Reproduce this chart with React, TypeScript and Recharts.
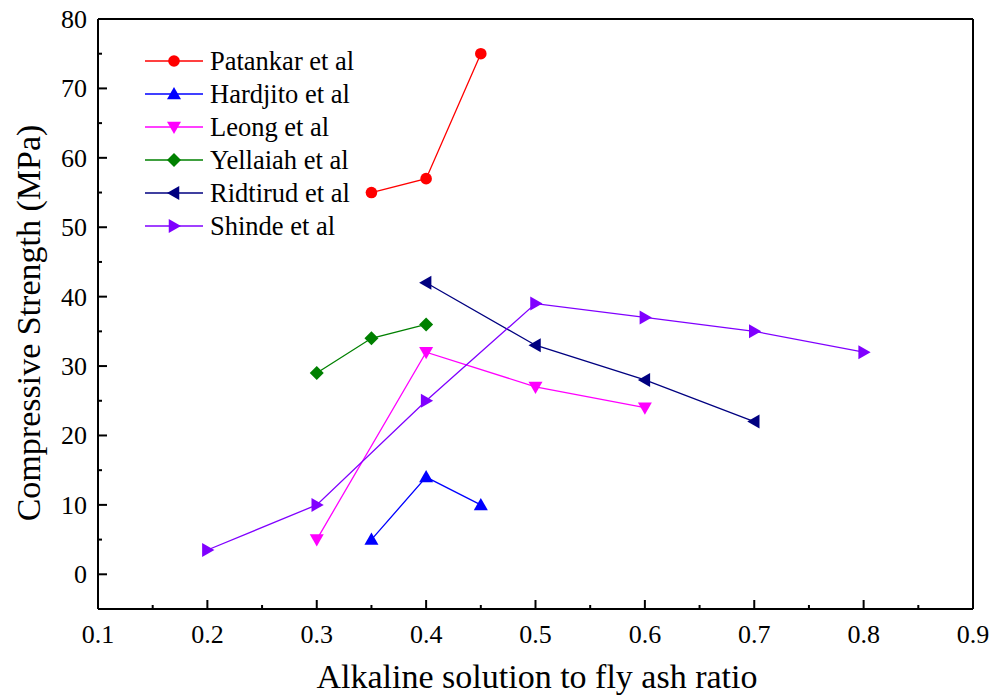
import React from "react";
import { Line, LineChart, XAxis, YAxis, Label } from "recharts";

const patankar = [
  { x: 0.35, y: 55 },
  { x: 0.4, y: 57 },
  { x: 0.45, y: 75 },
];
const hardjito = [
  { x: 0.35, y: 5 },
  { x: 0.4, y: 14 },
  { x: 0.45, y: 10 },
];
const leong = [
  { x: 0.3, y: 5 },
  { x: 0.4, y: 32 },
  { x: 0.5, y: 27 },
  { x: 0.6, y: 24 },
];
const yellaiah = [
  { x: 0.3, y: 29 },
  { x: 0.35, y: 34 },
  { x: 0.4, y: 36 },
];
const ridtirud = [
  { x: 0.4, y: 42 },
  { x: 0.5, y: 33 },
  { x: 0.6, y: 28 },
  { x: 0.7, y: 22 },
];
const shinde = [
  { x: 0.2, y: 3.5 },
  { x: 0.3, y: 10 },
  { x: 0.4, y: 25 },
  { x: 0.5, y: 39 },
  { x: 0.6, y: 37 },
  { x: 0.7, y: 35 },
  { x: 0.8, y: 32 },
];

const xTicks = [0.1, 0.15, 0.2, 0.25, 0.3, 0.35, 0.4, 0.45, 0.5, 0.55, 0.6, 0.65, 0.7, 0.75, 0.8, 0.85, 0.9];
const yTicks = [0, 5, 10, 15, 20, 25, 30, 35, 40, 45, 50, 55, 60, 65, 70, 75, 80];

type Shape = "circle" | "up" | "down" | "diamond" | "left" | "right";

const series: { name: string; data: { x: number; y: number }[]; color: string; shape: Shape }[] = [
  { name: "Patankar et al", data: patankar, color: "#ff0000", shape: "circle" },
  { name: "Hardjito et al", data: hardjito, color: "#0000ff", shape: "up" },
  { name: "Leong et al", data: leong, color: "#ff00ff", shape: "down" },
  { name: "Yellaiah et al", data: yellaiah, color: "#008000", shape: "diamond" },
  { name: "Ridtirud et al", data: ridtirud, color: "#000080", shape: "left" },
  { name: "Shinde et al", data: shinde, color: "#8000ff", shape: "right" },
];

const FONT = "'Liberation Serif', 'Times New Roman', serif";

function Marker({ cx, cy, shape, color }: { cx: number; cy: number; shape: Shape; color: string }) {
  const s = 7;
  switch (shape) {
    case "circle":
      return <circle cx={cx} cy={cy} r={5.8} fill={color} />;
    case "up":
      return <polygon points={`${cx},${cy - s} ${cx - s},${cy + s * 0.75} ${cx + s},${cy + s * 0.75}`} fill={color} />;
    case "down":
      return <polygon points={`${cx},${cy + s} ${cx - s},${cy - s * 0.75} ${cx + s},${cy - s * 0.75}`} fill={color} />;
    case "diamond":
      return <polygon points={`${cx},${cy - s} ${cx + s},${cy} ${cx},${cy + s} ${cx - s},${cy}`} fill={color} />;
    case "left":
      return <polygon points={`${cx - s},${cy} ${cx + s * 0.75},${cy - s} ${cx + s * 0.75},${cy + s}`} fill={color} />;
    case "right":
      return <polygon points={`${cx + s},${cy} ${cx - s * 0.75},${cy - s} ${cx - s * 0.75},${cy + s}`} fill={color} />;
  }
}

const isMajorX = (v: number) => Math.round(v * 100) % 10 === 0;
const isMajorY = (v: number) => Math.round(v) % 10 === 0;

function BottomTick(props: any) {
  const { x, y, payload } = props;
  const major = isMajorX(payload.value);
  return (
    <g>
      <line x1={x} x2={x} y1={y} y2={y - (major ? 9 : 4)} stroke="#000" strokeWidth={2} />
      {major && (
        <text x={x} y={y + 34} textAnchor="middle" fontSize={26} style={{ fontFamily: FONT }} fill="#000">
          {payload.value.toFixed(1)}
        </text>
      )}
    </g>
  );
}

function TopTick(props: any) {
  const { x, y, payload } = props;
  const major = isMajorX(payload.value);
  return <line x1={x} x2={x} y1={y} y2={y + (major ? 9 : 4)} stroke="#000" strokeWidth={2} />;
}

function LeftTick(props: any) {
  const { x, y, payload } = props;
  const major = isMajorY(payload.value);
  return (
    <g>
      <line x1={x} x2={x + (major ? 9 : 4)} y1={y} y2={y} stroke="#000" strokeWidth={2} />
      {major && (
        <text x={x - 11} y={y + 9} textAnchor="end" fontSize={26} style={{ fontFamily: FONT }} fill="#000">
          {payload.value}
        </text>
      )}
    </g>
  );
}

function RightTick(props: any) {
  const { x, y, payload } = props;
  const major = isMajorY(payload.value);
  return <line x1={x} x2={x - (major ? 9 : 4)} y1={y} y2={y} stroke="#000" strokeWidth={2} />;
}

function LegendBox() {
  return (
    <svg width={250} height={210} style={{ position: "absolute", left: 140, top: 45, fontFamily: FONT }}>
      {series.map((s, i) => {
        const cy = 16 + i * 33;
        return (
          <g key={s.name}>
            <line x1={5} x2={63} y1={cy} y2={cy} stroke={s.color} strokeWidth={1.3} />
            <Marker cx={34} cy={cy} shape={s.shape} color={s.color} />
            <text x={70} y={cy + 9} fontSize={26.5} fill="#000" style={{ fontFamily: FONT }}>
              {s.name}
            </text>
          </g>
        );
      })}
    </svg>
  );
}

export default function App() {
  return (
    <div style={{ position: "absolute", left: 0, top: 0, width: 994, height: 697, background: "#fff", fontFamily: FONT }}>
      <LineChart width={994} height={697} margin={{ top: 18, right: 20, bottom: 0, left: 0 }} style={{ fontFamily: FONT }}>
        <XAxis
          xAxisId="b"
          dataKey="x"
          type="number"
          domain={[0.1, 0.9]}
          ticks={xTicks}
          interval={0}
          allowDecimals
          height={88}
          tickSize={0}
          tickMargin={0}
          tickLine={false}
          axisLine={{ stroke: "#000", strokeWidth: 2 }}
          tick={<BottomTick />}
        >
          <Label
            content={() => (
              <text x={537} y={688} textAnchor="middle" fontSize={34} style={{ fontFamily: FONT }} fill="#000">
                Alkaline solution to fly ash ratio
              </text>
            )}
          />
        </XAxis>
        <XAxis
          xAxisId="t"
          orientation="top"
          dataKey="x"
          type="number"
          domain={[0.1, 0.9]}
          ticks={xTicks}
          interval={0}
          height={1}
          tickSize={0}
          tickMargin={0}
          tickLine={false}
          axisLine={{ stroke: "#000", strokeWidth: 2 }}
          tick={<TopTick />}
        />
        <YAxis
          yAxisId="l"
          type="number"
          domain={[-5, 80]}
          ticks={yTicks}
          interval={0}
          width={98}
          tickSize={0}
          tickMargin={0}
          tickLine={false}
          axisLine={{ stroke: "#000", strokeWidth: 2 }}
          tick={<LeftTick />}
        >
          <Label
            content={() => (
              <text
                x={40}
                y={323}
                transform="rotate(-90 40 323)"
                textAnchor="middle"
                fontSize={34}
                style={{ fontFamily: FONT }}
                fill="#000"
              >
                Compressive Strength (MPa)
              </text>
            )}
          />
        </YAxis>
        <YAxis
          yAxisId="r"
          orientation="right"
          type="number"
          domain={[-5, 80]}
          ticks={yTicks}
          interval={0}
          width={1}
          tickSize={0}
          tickMargin={0}
          tickLine={false}
          axisLine={{ stroke: "#000", strokeWidth: 2 }}
          tick={<RightTick />}
        />
        {series.map((s) => (
          <Line
            key={s.name}
            xAxisId="b"
            yAxisId="l"
            data={s.data}
            dataKey="y"
            name={s.name}
            stroke={s.color}
            strokeWidth={1.3}
            isAnimationActive={false}
            dot={(p: any) => <Marker key={`${s.name}-${p.index}`} cx={p.cx} cy={p.cy} shape={s.shape} color={s.color} />}
            activeDot={false}
          />
        ))}
      </LineChart>
      <LegendBox />
    </div>
  );
}
